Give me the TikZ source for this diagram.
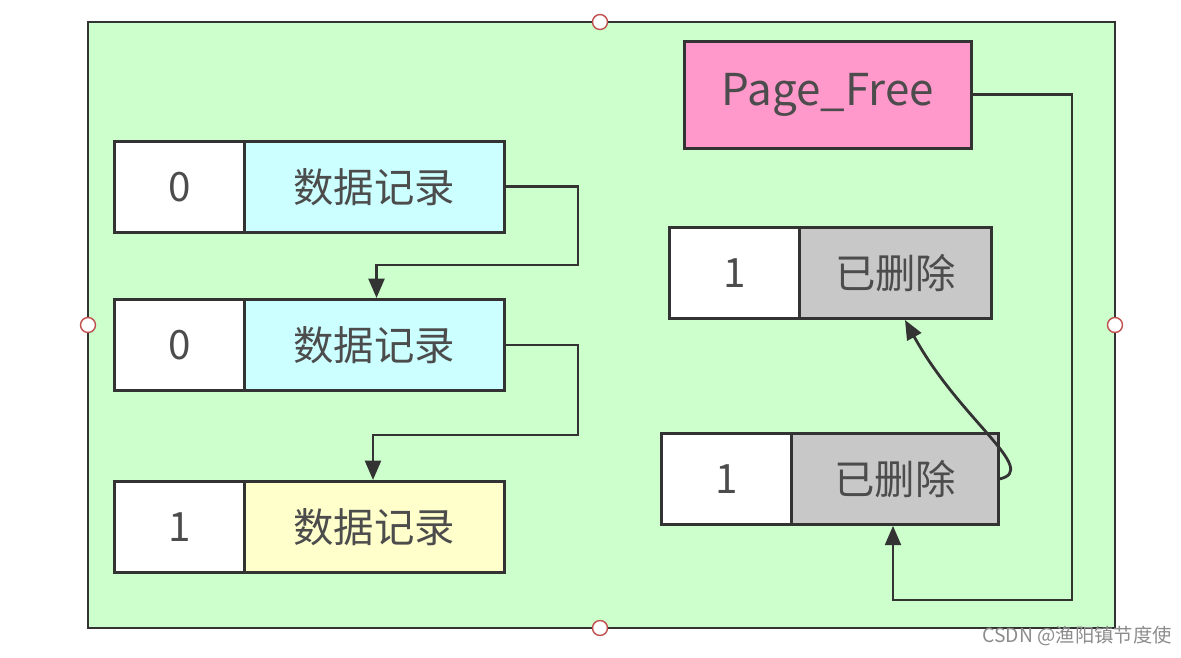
\documentclass[tikz,border=0pt]{standalone}
\usepackage{fontspec}
\setmainfont{Noto Sans CJK SC}
\usetikzlibrary{positioning,arrows.meta}
\definecolor{bggreen}{HTML}{CCFFCC}
\definecolor{cellcyan}{HTML}{CCFFFF}
\definecolor{cellyellow}{HTML}{FFFFCC}
\definecolor{cellgray}{HTML}{C8C8C8}
\definecolor{cellpink}{HTML}{FF99CC}
\definecolor{handle}{HTML}{C0504D}
\newcommand{\cellh}{1.82cm}

\tikzset{
  cell/.style={draw=black!80, line width=1.6pt, minimum height=\cellh, inner sep=0pt,
    font=\fontsize{23}{27}\selectfont, text=black!70},
  num/.style={cell, fill=white, minimum width=2.6cm},
  rec/.style={cell, minimum width=5.2cm},
  del/.style={cell, fill=cellgray, minimum width=3.85cm},
  link/.style={draw=black!80, line width=1.6pt, -{Triangle[length=11pt,width=9pt]}},
  knob/.style={circle, draw=handle, fill=white, line width=0.8pt, inner sep=0pt, minimum size=0.3cm}
}

\begin{document}
\begin{tikzpicture}[x=0.02cm,y=-0.02cm]
  \useasboundingbox (0,0) rectangle (1181,657);
      % frame
  \draw[fill=bggreen, draw=black!80, line width=1.6pt] (88,22) rectangle (1115,628);
  \node[knob] (kt) at (600,22) {};
  \node[knob] (kb) at (600,628) {};
  \node[knob] (kl) at (88,325) {};
  \node[knob] (kr) at (1115,325) {};

      % records
  \node[num, anchor=north west] (n1) at (113,140) {0};
  \node[rec, fill=cellcyan, right=-1.6pt of n1] (r1) {数据记录};
  \node[num, anchor=north west] (n2) at (113,298) {0};
  \node[rec, fill=cellcyan, right=-1.6pt of n2] (r2) {数据记录};
  \node[num, anchor=north west] (n3) at (113,480) {1};
  \node[rec, fill=cellyellow, right=-1.6pt of n3] (r3) {数据记录};

      % free list
  \node[cell, fill=cellpink, minimum width=5.74cm, minimum height=2.14cm, font=\fontsize{25}{29}\selectfont, anchor=north west] (pf) at (683,40) {Page\_Free};
  \node[num, anchor=north west] (d1n) at (668,226) {1};
  \node[del, right=-1.6pt of d1n] (d1) {已删除};
  \node[num, anchor=north west] (d2n) at (660,432) {1};
  \node[del, minimum width=4.14cm, right=-1.6pt of d2n] (d2) {已删除};

      % links
  \coordinate (a1) at (578,265);
  \draw[link] (r1.east) -| (a1) -| ([xshift=2pt]r2.north west -| 373,0);
  \draw[link] (r2.east) -| (578,435) -| (373,480);
  \draw[link] (pf.east) -| (1072,600) -| (d2.south -| 893,0);
  \draw[link] (d2.east) .. controls (1040,470) and (960,420) .. (905,320);

  \node[font=\fontsize{11}{13}\selectfont, text=black!45, anchor=east] (wm) at (1178,636) {CSDN @渔阳镇节度使};
\end{tikzpicture}
\end{document}
